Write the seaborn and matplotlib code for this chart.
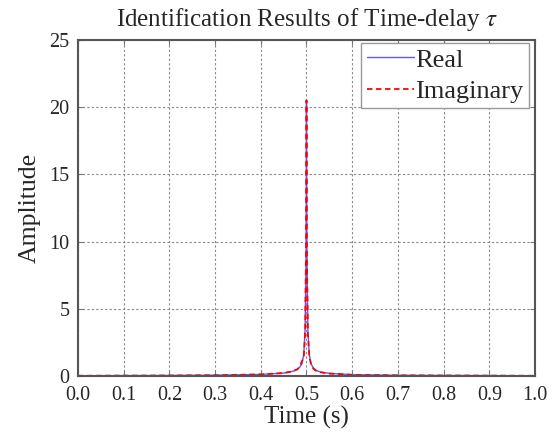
import numpy as np
import pandas as pd
import matplotlib
matplotlib.use('Agg')
import matplotlib.pyplot as plt
import seaborn as sns

# time axis and amplitudes
tiempo = [0.0, 0.1, 0.2, 0.3, 0.4, 0.45, 0.47, 0.48, 0.485, 0.49, 0.494, 0.497, 0.499, 0.5,
          0.501, 0.503, 0.506, 0.51, 0.515, 0.52, 0.53, 0.55, 0.6, 0.7, 0.8, 0.9, 1.0]
real = [0.02, 0.03, 0.04, 0.06, 0.12, 0.22, 0.35, 0.5, 0.65, 0.9, 1.6, 3.5, 9.0, 20.5,
        9.0, 3.5, 1.6, 0.9, 0.6, 0.45, 0.3, 0.2, 0.1, 0.05, 0.04, 0.03, 0.02]
imag = [0.02, 0.03, 0.04, 0.06, 0.12, 0.22, 0.35, 0.5, 0.7, 1.1, 1.4, 3.2, 9.5, 20.5,
        8.5, 3.2, 1.5, 0.85, 0.55, 0.4, 0.28, 0.18, 0.09, 0.05, 0.04, 0.03, 0.02]

df = pd.DataFrame({'t': tiempo, 'Real': real, 'Imaginary': imag})

sns.set_style('white')
plt.rcParams['font.family'] = ['Liberation Serif', 'DejaVu Serif']
plt.rcParams['mathtext.fontset'] = 'stix'

fig, ax = plt.subplots(figsize=(5.55, 4.34), dpi=100)
fig.subplots_adjust(left=0.1405, right=0.964, top=0.908, bottom=0.1336)

sns.lineplot(data=df, x='t', y='Real', ax=ax, color='#5a5aff', lw=1.0, label='Real')
sns.lineplot(data=df, x='t', y='Imaginary', ax=ax, color='red', lw=1.3,
             linestyle=(0, (3, 2)), label='Imaginary')

ax.set_xlim(0, 1)
ax.set_ylim(0, 25)
ax.set_xticks(np.arange(0, 1.01, 0.1))
ax.set_xticklabels([f'{v:.1f}' for v in np.arange(0, 1.01, 0.1)])
ax.set_yticks([0, 5, 10, 15, 20, 25])
ax.grid(True, color='#888888', linestyle=(0, (2, 2)), lw=0.8)
ax.tick_params(direction='in', length=3.5, width=0.8, color='#777777',
               top=True, right=True, bottom=True, left=True, labelsize=14.5)
ax.tick_params(axis='x', pad=7)
ax.tick_params(axis='y', pad=6)
for s in ax.spines.values():
    s.set_color('#555555')
    s.set_linewidth(1.5)

ax.set_title('Identification Results of Time-delay $\\tau$', fontsize=18, pad=10)
ax.set_xlabel('Time (s)', fontsize=18, labelpad=1)
ax.set_ylabel('Amplitude', fontsize=18.5, labelpad=6)

leg = ax.legend(loc='upper right', bbox_to_anchor=(0.987, 0.991), fontsize=19,
                frameon=True, fancybox=False, framealpha=1, edgecolor='#999999',
                borderpad=0.2, labelspacing=0.3, handlelength=1.8,
                handletextpad=0.05, borderaxespad=0.0)
leg.get_frame().set_linewidth(1.0)

plt.savefig('out.png', dpi=100)
